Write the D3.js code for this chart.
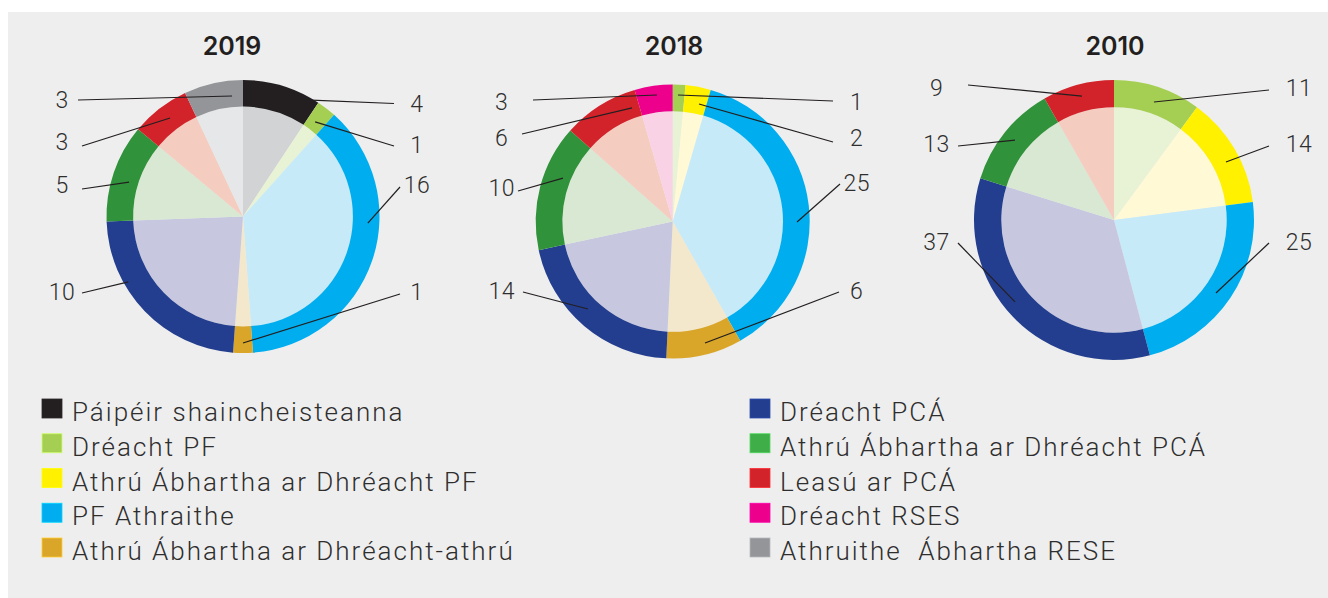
<!DOCTYPE html>
<html>
<head>
<meta charset="utf-8">
<script src="https://cdn.jsdelivr.net/npm/d3@7"></script>
<style>
  body { margin: 0; background: #fff; }
  svg { display: block; }
  .lbl { font-family: Roboto, "Open Sans", sans-serif; font-weight: 300; fill: #2e2e2e; white-space: pre; }
  .title { font-family: Inter, "Open Sans", sans-serif; font-weight: 600; fill: #231f20; }
</style>
</head>
<body>
<div id="chart"></div>
<script>
// categories in legend order
const categories = [
  "Páipéir shaincheisteanna",
  "Dréacht PF",
  "Athrú Ábhartha ar Dhréacht PF",
  "PF Athraithe",
  "Athrú Ábhartha ar Dhréacht-athrú",
  "Dréacht PCÁ",
  "Athrú Ábhartha ar Dhréacht PCÁ",
  "Leasú ar PCÁ",
  "Dréacht RSES",
  "Athruithe  Ábhartha RESE"
];
const years = ["2019", "2018", "2010"];
const values2019 = [4, 1, 0, 16, 1, 10, 5, 3, 0, 3];
const values2018 = [0, 1, 2, 25, 6, 14, 10, 6, 3, 0];
const values2010 = [0, 11, 14, 25, 0, 37, 13, 9, 0, 0];

const ringColors  = ["#231f20", "#a5cf52", "#fff100", "#00aeef", "#d9a629", "#233e8e", "#30923a", "#d2232a", "#ec008c", "#939598"];
const fillColors  = ["#d1d3d4", "#e8f2d4", "#fffad5", "#c6eaf8", "#f4e8cc", "#c7c8e0", "#d8e8d2", "#f4cdc0", "#f9d3e5", "#e6e7e8"];
const legendColors = ["#231f20", "#a5cf52", "#fff100", "#00aeef", "#d9a629", "#233e8e", "#3fae49", "#d2232a", "#ec008c", "#939598"];

// pie placement
const pieLayout = [
  { cx: 243, cy: 216.5, r: 136.5, titleX: 232 },
  { cx: 672.7, cy: 221.5, r: 137, titleX: 674 },
  { cx: 1114, cy: 220, r: 140, titleX: 1115 }
];

// value label annotations, keyed by category index:
// tx = text x offset, ty = text y offset, sx/sy = leader start, a/rr = leader end (angle deg, radius)
const labels2019 = {
  0: { tx: 174, ty: -112.7, sx: 151, sy: -113, a: 30.4, rr: 135 },
  1: { tx: 174, ty: -71.8, sx: 151, sy: -70.5, a: 37.3, rr: 119 },
  3: { tx: 174, ty: -31.5, sx: 157, sy: -29.5, a: 93, rr: 125 },
  4: { tx: 174, ty: 75.2, sx: 157, sy: 77.5, a: 180, rr: 126.5 },
  5: { tx: -181, ty: 75.2, sx: -161, sy: 76.5, a: 240.3, rr: 132 },
  6: { tx: -181, ty: -31.5, sx: -161, sy: -27.5, a: 286.8, rr: 119 },
  7: { tx: -181, ty: -74.8, sx: -161, sy: -70.5, a: 323.5, rr: 122.6 },
  9: { tx: -181, ty: -117, sx: -165, sy: -116.5, a: 354.8, rr: 121 }
};
const labels2018 = {
  1: { tx: 184, ty: -119.2, sx: 160.3, sy: -120.5, a: 2.4, rr: 126.6 },
  2: { tx: 184, ty: -83.5, sx: 160.3, sy: -79.5, a: 12.6, rr: 120.4 },
  3: { tx: 184, ty: -38.2, sx: 167.3, sy: -37.5, a: 90.2, rr: 124.3 },
  4: { tx: 184, ty: 69.5, sx: 166.3, sy: 70.5, a: 165.1, rr: 125.7 },
  5: { tx: -171, ty: 69.5, sx: -149.7, sy: 70.5, a: 224.1, rr: 121.8 },
  6: { tx: -171, ty: -33.2, sx: -154.7, sy: -30.5, a: 291.6, rr: 118 },
  7: { tx: -171, ty: -83.5, sx: -150.7, sy: -87.5, a: 340.3, rr: 120.6 },
  8: { tx: -171, ty: -119.2, sx: -139.7, sy: -121.5, a: 352.9, rr: 127.5 }
};
const labels2010 = {
  1: { tx: 185, ty: -131.7, sx: 155, sy: -130, a: 18.7, rr: 124.6 },
  2: { tx: 185, ty: -76.2, sx: 155, sy: -74, a: 62.6, rr: 126.1 },
  3: { tx: 185, ty: 21.7, sx: 155, sy: 23, a: 125.6, rr: 125.4 },
  5: { tx: -177.5, ty: 21.7, sx: -156, sy: 23, a: 230.4, rr: 128.5 },
  6: { tx: -177.5, ty: -76.2, sx: -156, sy: -74, a: 308.9, rr: 127.3 },
  7: { tx: -177.5, ty: -131.7, sx: -146, sy: -135, a: 345.5, rr: 128 }
};

const seriesValues = [values2019, values2018, values2010];
const seriesLabels = [labels2019, labels2018, labels2010];

const W = 1328, H = 598;
const svg = d3.select("#chart").append("svg").attr("width", W).attr("height", H);

svg.append("rect").attr("x", 8).attr("y", 12).attr("width", W - 8).attr("height", H - 12).attr("fill", "#eeeeee");

const pie = d3.pie().sort(null).value(d => d.v);

years.forEach((yr, yi) => {
  const L = pieLayout[yi];
  const data = seriesValues[yi].map((v, i) => ({ v, i })).filter(d => d.v > 0);
  const arcs = pie(data);
  const inner = L.r * 0.805;

  const g = svg.append("g").attr("transform", `translate(${L.cx},${L.cy})`);

  const fillArc = d3.arc().innerRadius(0).outerRadius(inner);
  const ringArc = d3.arc().innerRadius(inner).outerRadius(L.r);

  g.selectAll("path.fill").data(arcs).enter().append("path")
    .attr("class", "fill")
    .attr("d", fillArc)
    .attr("fill", d => fillColors[d.data.i]);

  g.selectAll("path.ring").data(arcs).enter().append("path")
    .attr("class", "ring")
    .attr("d", ringArc)
    .attr("fill", d => ringColors[d.data.i]);

  svg.append("text").attr("class", "title")
    .attr("x", L.titleX).attr("y", 55)
    .attr("text-anchor", "middle")
    .attr("font-size", 25)
    .text(yr);

  // leader lines and value labels
  const lab = seriesLabels[yi];
  arcs.forEach(d => {
    const c = lab[d.data.i];
    if (!c) return;
    const end = d3.pointRadial(c.a * Math.PI / 180, c.rr);
    g.append("line")
      .attr("x1", c.sx).attr("y1", c.sy)
      .attr("x2", end[0]).attr("y2", end[1])
      .attr("stroke", "#231f20").attr("stroke-width", 1.2);
    g.append("text").attr("class", "lbl")
      .attr("x", c.tx).attr("y", c.ty + 8)
      .attr("text-anchor", "middle")
      .attr("font-size", 23)
      .attr("letter-spacing", 0.5)
      .text(d.data.v);
  });
});

// legend, two columns of five
const legend = svg.append("g");
const colX = [42, 750];
const rowY = d3.scaleLinear().domain([0, 4]).range([399, 538]);
categories.forEach((name, i) => {
  const col = Math.floor(i / 5), row = i % 5;
  const gg = legend.append("g").attr("transform", `translate(${colX[col]},${rowY(row)})`);
  gg.append("rect").attr("width", 20).attr("height", 19)
    .attr("fill", legendColors[i])
    .attr("stroke", d3.color(legendColors[i]).brighter(0.6)).attr("stroke-width", 0.8);
  gg.append("text").attr("class", "lbl")
    .attr("x", 30).attr("y", 22)
    .attr("font-size", 26)
    .attr("letter-spacing", 2)
    .text(name);
});
</script>
</body>
</html>
